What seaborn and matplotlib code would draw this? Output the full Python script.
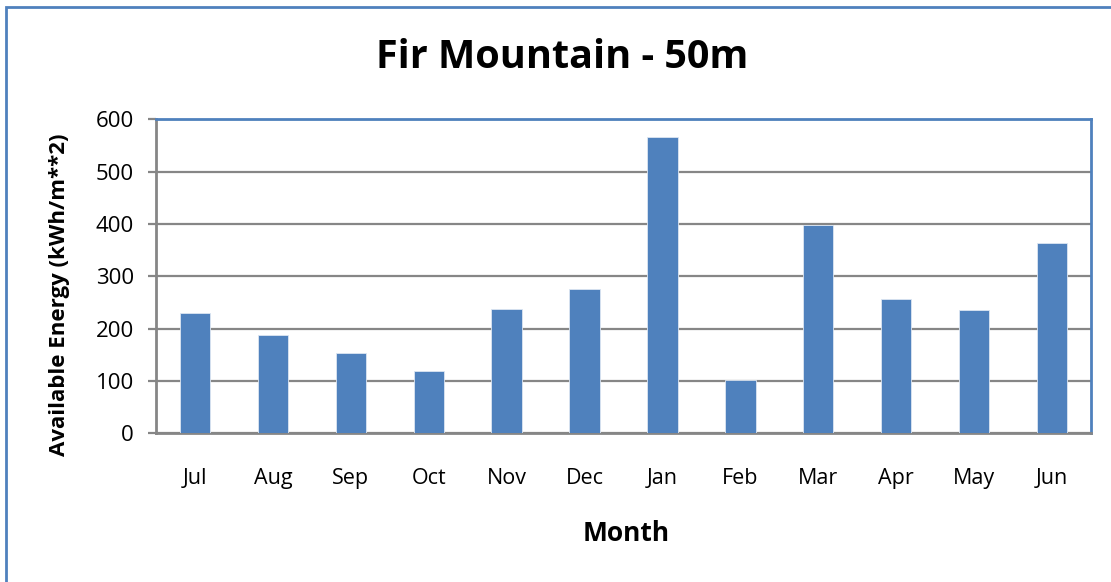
import pandas as pd
import numpy as np
import matplotlib
matplotlib.use('Agg')
import matplotlib.pyplot as plt
import seaborn as sns
from matplotlib.patches import Rectangle

months = ['Jul', 'Aug', 'Sep', 'Oct', 'Nov', 'Dec', 'Jan', 'Feb', 'Mar', 'Apr', 'May', 'Jun']
energy = [230, 188, 153, 119, 237, 276, 567, 101, 398, 257, 235, 364]
yticks = [0, 100, 200, 300, 400, 500, 600]

df = pd.DataFrame({'Month': months, 'Energy': energy})

sns.set_style('white')
plt.rcParams['font.family'] = ['Open Sans', 'DejaVu Sans']
plt.rcParams['text.color'] = 'black'
plt.rcParams['xtick.color'] = 'black'
plt.rcParams['ytick.color'] = 'black'

blue = '#4F81BD'
grey = '#868686'

fig = plt.figure(figsize=(11.11, 5.82), dpi=100)
ax = fig.add_axes([0.1404, 0.2555, 0.8416, 0.5395])

sns.barplot(data=df, x='Month', y='Energy', color=blue, saturation=1, width=0.39,
            edgecolor='#dce6f2', linewidth=0.6, ax=ax, zorder=3)

ax.set_ylim(0, 600)
ax.set_yticks(yticks)
ax.set_xlim(-0.5, len(months) - 0.5)
ax.yaxis.grid(True, color=grey, linewidth=1.6, zorder=0)
ax.set_axisbelow(True)

for s in ['left', 'bottom']:
    ax.spines[s].set_color(grey)
    ax.spines[s].set_linewidth(2)
for s in ['top', 'right']:
    ax.spines[s].set_color(blue)
    ax.spines[s].set_linewidth(2)

ax.tick_params(axis='y', length=6, width=1.6, color=grey, labelcolor='black', pad=10,
               labelsize=16, left=True)
ax.tick_params(axis='x', length=0, pad=25, labelsize=15.5, labelcolor='black')
ax.set_xlabel('')
ax.set_ylabel('')

fig.text(0.506, 0.901, 'Fir Mountain - 50m', ha='center', va='center', fontsize=28.5, fontweight='bold')
fig.text(0.054, 0.493, 'Available Energy (kWh/m**2)', ha='center', va='center', rotation=90,
         fontsize=16, fontweight='bold')
fig.text(0.564, 0.084, 'Month', ha='center', va='center', fontsize=19, fontweight='bold')

# outer chart frame, cut off at right and bottom like the source
fig.add_artist(Rectangle((0.0058, -0.1), 1.2, 0.988 + 0.1, transform=fig.transFigure,
                         fill=False, edgecolor=blue, linewidth=2, clip_on=False))

fig.savefig('out.png', dpi=100)
